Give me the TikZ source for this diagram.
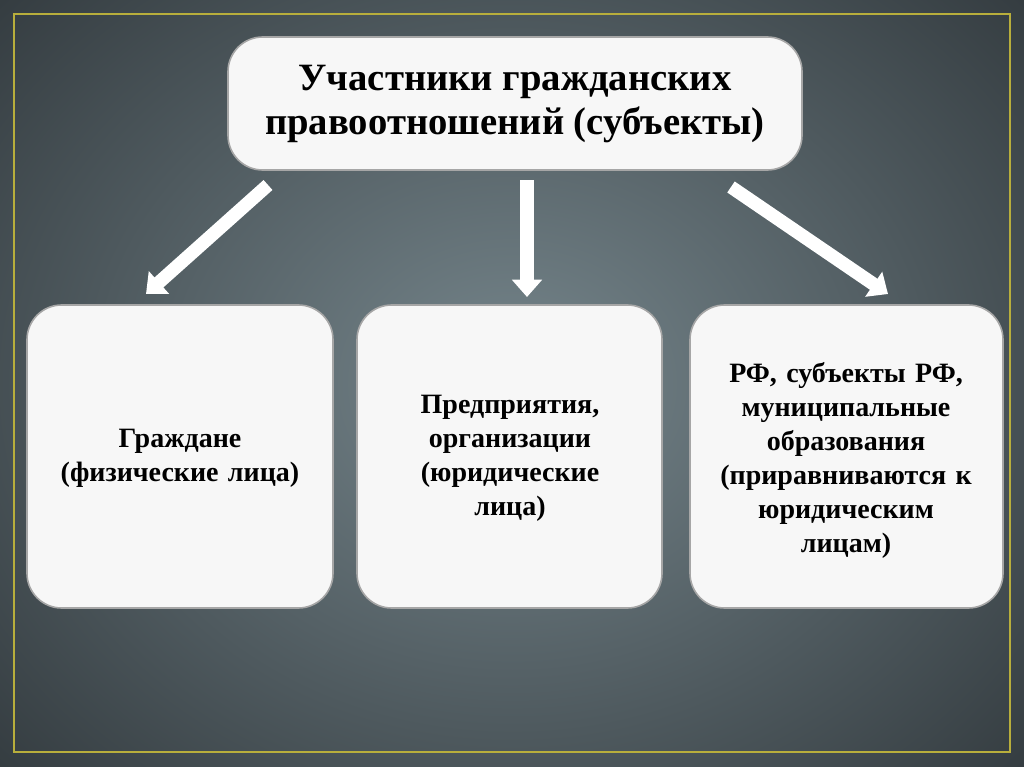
\documentclass[tikz,border=0pt]{standalone}
\usepackage{fontspec}
\setmainfont{Liberation Serif}
\usetikzlibrary{arrows.meta}
\definecolor{bgin}{HTML}{76868C}
\definecolor{bgout}{HTML}{2E3539}
\definecolor{frame}{HTML}{B8AE3C}
\definecolor{boxfill}{HTML}{F7F7F7}
\tikzset{
  cell/.style={draw=gray!70, line width=1.2pt, fill=boxfill, rounded corners=26pt},
  celltext/.style={align=center, font=\bfseries\fontsize{21}{25.5}\selectfont, text width=225pt},
  bigarrow/.style={draw=white, line width=10pt, -{Triangle[length=13pt,width=22pt]}}
}
\begin{document}
\begin{tikzpicture}[x=0.75pt,y=-0.75pt]
\useasboundingbox (0,0) rectangle (1024,767);
\fill[bgout] (0,0) rectangle (1024,767);
\shade[inner color=bgin, outer color=bgout] (-250,-250) rectangle (1274,1017);
\draw[frame, line width=1.2pt] (14,14) rectangle (1010,752);

% title
\draw[cell] (228,37) rectangle (802,170);
\node[align=center, font=\bfseries\fontsize{29}{33}\selectfont] (title) at (515,104)
  {Участники гражданских\\правоотношений (субъекты)};

% three groups
\draw[cell] (27,305) rectangle (333,608);
\node[celltext] (citizens) at (180,458) {Граждане\\(физические лица)};
\draw[cell] (357,305) rectangle (662,608);
\node[celltext] (firms) at (510,458) {Предприятия,\\организации\\(юридические\\лица)};
\draw[cell] (690,305) rectangle (1003,608);
\node[celltext] (state) at (846,460) {РФ, субъекты РФ,\\муниципальные\\образования\\(приравниваются к\\юридическим\\лицам)};

\coordinate (a1) at (268,185); \coordinate (b1) at (146,294);
\coordinate (a2) at (527,180); \coordinate (b2) at (527,297);
\coordinate (a3) at (731,187); \coordinate (b3) at (888,294);
\draw[bigarrow] (a1) -- (b1);
\draw[bigarrow] (a2) -- (b2);
\draw[bigarrow] (a3) -- (b3);
\end{tikzpicture}
\end{document}
